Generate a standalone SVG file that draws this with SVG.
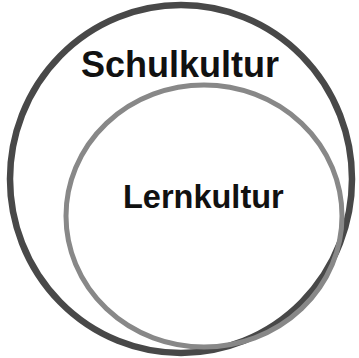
<svg xmlns="http://www.w3.org/2000/svg" width="359" height="358" viewBox="0 0 359 358">
<style>
.lbl{font-family:"Liberation Sans",Arial,sans-serif;font-weight:bold;fill:#111}
</style>
<rect width="359" height="358" fill="#fff"/>
<g id="schulkultur">
<ellipse cx="181" cy="179" rx="171" ry="174" fill="none" stroke="#484848" stroke-width="6.5"/>
<text class="lbl" x="81" y="77" font-size="36">Schulkultur</text>
</g>
<g id="lernkultur">
<ellipse cx="204" cy="216" rx="138" ry="131" fill="none" stroke="#888" stroke-width="5"/>
<text class="lbl" x="123" y="208" font-size="32.5">Lernkultur</text>
</g>
<g id="connectors"></g>
</svg>
